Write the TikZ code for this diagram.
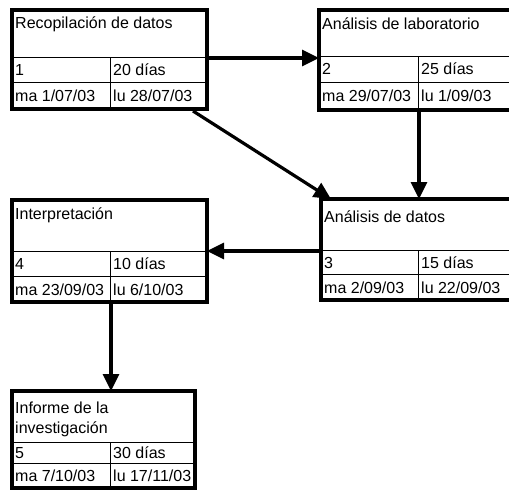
\documentclass[tikz,border=0pt]{standalone}
\usepackage{fontspec}
\setmainfont{Liberation Sans}
\usetikzlibrary{arrows.meta,calc}
\begin{document}
\begin{tikzpicture}[x=1pt,y=-1pt,
  box/.style={draw, line width=3.2pt, rectangle, outer sep=0pt, inner sep=0pt, anchor=north west},
  rule/.style={line width=1pt},
  lbl/.style={anchor=base west, inner sep=0pt, font=\fontsize{16}{20}\selectfont},
  arr/.style={line width=3.2pt, -{Triangle[length=17pt,width=16pt]}}]
\clip (0,0) rectangle (509,495);
\fill[white] (0,0) rectangle (509,495);
% Box 1
\node[box, minimum width=195pt, minimum height=99pt] (b1) at (12,10) {};
\draw[rule] (12,58) -- (207,58) (12,83) -- (207,83) (110,58) -- (110,109);
\node[lbl] (t1) at (15,29) {Recopilación de datos};
\node[lbl] (t1a) at (15,76) {1};
\node[lbl] (t1b) at (113,76) {20 días};
\node[lbl] (t1c) at (15,101) {ma 1/07/03};
\node[lbl] (t1d) at (113,101) {lu 28/07/03};
% Box 2
\node[box, minimum width=195pt, minimum height=100pt] (b2) at (319,10) {};
\draw[rule] (319,57) -- (514,57) (319,83) -- (514,83) (418,57) -- (418,110);
\node[lbl] (t2) at (322,30) {Análisis de laboratorio};
\node[lbl] (t2a) at (322,75) {2};
\node[lbl] (t2b) at (421,75) {25 días};
\node[lbl] (t2c) at (322,101) {ma 29/07/03};
\node[lbl] (t2d) at (421,101) {lu 1/09/03};
% Box 3
\node[box, minimum width=195pt, minimum height=101pt] (b3) at (321,199) {};
\draw[rule] (321,250) -- (516,250) (321,274) -- (516,274) (418,250) -- (418,300);
\node[lbl] (t3) at (324,222) {Análisis de datos};
\node[lbl] (t3a) at (324,268) {3};
\node[lbl] (t3b) at (421,268) {15 días};
\node[lbl] (t3c) at (324,293) {ma 2/09/03};
\node[lbl] (t3d) at (421,293) {lu 22/09/03};
% Box 4
\node[box, minimum width=195pt, minimum height=102pt] (b4) at (12,200) {};
\draw[rule] (12,251) -- (207,251) (12,276) -- (207,276) (110,251) -- (110,302);
\node[lbl] (t4) at (15,219) {Interpretación};
\node[lbl] (t4a) at (15,269) {4};
\node[lbl] (t4b) at (113,269) {10 días};
\node[lbl] (t4c) at (15,295) {ma 23/09/03};
\node[lbl] (t4d) at (113,295) {lu 6/10/03};
% Box 5
\node[box, minimum width=183pt, minimum height=97pt] (b5) at (12,391) {};
\draw[rule] (12,442) -- (195,442) (12,463) -- (195,463) (110,442) -- (110,488);
\node[lbl] (t5) at (15,413) {Informe de la};
\node[lbl] (t5x) at (15,433) {investigación};
\node[lbl] (t5a) at (15,458) {5};
\node[lbl] (t5b) at (113,458) {30 días};
\node[lbl] (t5c) at (15,481) {ma 7/10/03};
\node[lbl] (t5d) at (113,481) {lu 17/11/03};
% Connectors
\draw[arr] ($(b1.north east)+(0,48)$) -- ($(b2.north west)+(0,48)$);
\draw[arr] ($(b1.south east)+(-14,2)$) -- ($(b3.north west)+(10,0)$);
\draw[arr] ($(b2.south west)+(100,0)$) -- ($(b3.north west)+(98,0)$);
\draw[arr] ($(b3.north west)+(0,52)$) -- ($(b4.north east)+(0,51)$);
\draw[arr] ($(b4.south west)+(99,0)$) -- ($(b5.north west)+(99,0)$);
\end{tikzpicture}
\end{document}
